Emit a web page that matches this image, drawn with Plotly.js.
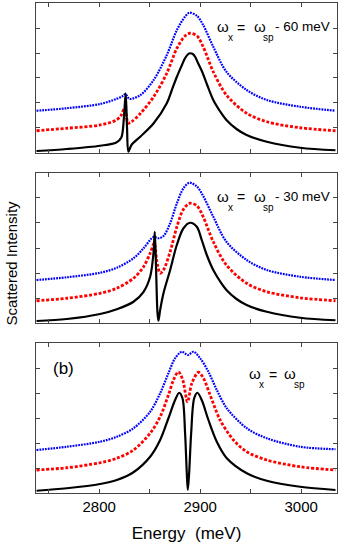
<!DOCTYPE html>
<html>
<head>
<meta charset="utf-8">
<script src="https://cdn.plot.ly/plotly-3.0.1.min.js"></script>
<style>
  html, body { margin: 0; padding: 0; background: #fff; }
  #graphDiv { width: 341px; height: 545px; }
</style>
</head>
<body>
<div id="graphDiv"></div>
<script>
// Energy (meV) and intensity, panel by panel (top = 1)
const p1BlackE = [2738, 2768, 2801, 2817, 2822, 2824.5, 2826.3, 2827.6, 2829, 2832, 2841, 2854, 2867, 2872, 2877, 2882, 2885, 2888, 2890, 2893, 2895, 2898, 2902, 2907, 2913, 2920, 2926, 2936, 2946, 2966, 2999, 3034];
const p1Black  = [0.08, 0.16, 0.29, 0.42, 0.62, 1.4, 2.39, 1.05, 0.05, 0.32, 0.66, 1.19, 1.99, 2.52, 3.05, 3.52, 3.79, 3.95, 3.99, 3.95, 3.85, 3.59, 3.25, 2.72, 2.12, 1.65, 1.32, 0.96, 0.72, 0.45, 0.21, 0.11];
const p1RedE   = [2738, 2768, 2801, 2817, 2822, 2825, 2827, 2828.4, 2832, 2841, 2854, 2867, 2877, 2885, 2890, 2897, 2903, 2913, 2926, 2946, 2966, 2999, 3034];
const p1Red    = [0.89, 0.99, 1.12, 1.32, 1.52, 1.79, 1.52, 1.19, 1.25, 1.59, 2.25, 3.19, 4.19, 4.68, 4.79, 4.68, 4.25, 3.25, 2.32, 1.59, 1.25, 1.01, 0.89];
const p1BlueE  = [2738, 2768, 2801, 2817, 2823, 2826, 2829, 2831, 2841, 2854, 2867, 2877, 2885, 2889.5, 2897, 2903, 2913, 2926, 2946, 2966, 2999, 3034];
const p1Blue   = [1.69, 1.79, 1.96, 2.16, 2.27, 2.36, 2.20, 2.16, 2.32, 2.92, 3.92, 4.92, 5.45, 5.61, 5.48, 5.12, 4.25, 3.25, 2.52, 2.12, 1.85, 1.69];

const p2BlackE = [2738, 2768, 2801, 2817.5, 2834, 2844, 2850.5, 2853.8, 2855.1, 2856.4, 2857.8, 2858.7, 2860.4, 2863.7, 2870.3, 2876.9, 2883.5, 2890, 2896.7, 2901.6, 2906.6, 2913, 2920, 2926, 2936, 2946, 2966, 2999, 3034];
const p2Black  = [0.08, 0.16, 0.36, 0.55, 0.85, 1.25, 1.85, 2.79, 3.65, 2.12, 0.39, 0.09, 0.52, 1.19, 2.12, 3.12, 3.79, 4.01, 3.85, 3.32, 2.72, 2.12, 1.65, 1.32, 0.96, 0.72, 0.45, 0.21, 0.11];
const p2RedE   = [2738, 2768, 2801, 2817.5, 2834, 2844, 2850.5, 2854.5, 2857, 2860.4, 2863.7, 2870.3, 2877, 2883.5, 2890, 2897, 2903, 2913, 2926, 2946, 2966, 2999, 3034];
const p2Red    = [0.89, 0.99, 1.19, 1.39, 1.79, 2.25, 2.79, 3.19, 2.52, 1.99, 2.12, 2.85, 3.85, 4.55, 4.79, 4.68, 4.25, 3.25, 2.32, 1.59, 1.25, 1.01, 0.89];
const p2BlueE  = [2738, 2768, 2801, 2817.5, 2834, 2844, 2852, 2854.5, 2858.7, 2863.7, 2870.3, 2877, 2883.5, 2889.4, 2897, 2903, 2913, 2926, 2946, 2966, 2999, 3034];
const p2Blue   = [1.72, 1.83, 2.01, 2.21, 2.59, 2.99, 3.39, 3.45, 3.39, 3.48, 3.99, 4.79, 5.39, 5.61, 5.45, 5.08, 4.25, 3.25, 2.52, 2.12, 1.85, 1.72];

const p3BlackE = [2738, 2768, 2801, 2817.5, 2834, 2850.5, 2860.4, 2868.6, 2875.2, 2879.2, 2882.5, 2885.1, 2886.8, 2887.8, 2889.1, 2891.1, 2894.1, 2897.3, 2901.6, 2908.2, 2916.5, 2926.4, 2946.2, 2966, 2999, 3034];
const p3Black  = [0.09, 0.19, 0.36, 0.52, 0.83, 1.45, 2.12, 2.99, 3.72, 4.01, 3.79, 2.39, 0.79, 0.12, 0.79, 2.39, 3.79, 4.01, 3.72, 2.92, 2.05, 1.39, 0.79, 0.49, 0.25, 0.12];
const p3RedE   = [2738, 2768, 2801, 2817.5, 2834, 2850.5, 2860.4, 2868.6, 2873.6, 2878.5, 2882.8, 2887.5, 2891.8, 2898.3, 2903.3, 2909.9, 2919.8, 2933, 2946.2, 2966, 2999, 3034];
const p3Red    = [0.92, 1.01, 1.21, 1.39, 1.72, 2.39, 3.05, 3.92, 4.52, 4.85, 4.52, 3.65, 4.39, 4.83, 4.59, 3.92, 2.92, 2.12, 1.65, 1.32, 1.05, 0.92];
const p3BlueE  = [2738, 2768, 2801, 2817.5, 2834, 2850.5, 2860.4, 2868.6, 2875.2, 2881.9, 2887.8, 2893.4, 2900, 2908.2, 2916.5, 2926.4, 2946.2, 2966, 2999, 3034];
const p3Blue   = [1.72, 1.85, 2.05, 2.25, 2.59, 3.25, 3.99, 4.79, 5.39, 5.65, 5.52, 5.65, 5.39, 4.85, 4.12, 3.39, 2.59, 2.19, 1.85, 1.75];

// x ticks every 50 meV, labels every 100
const xTickVals = [2750, 2800, 2850, 2900, 2950, 3000];
const xTickText = ['', '2800', '', '2900', '', '3000'];
const detuning = ['- 60 meV', '- 30 meV', ''];

const FONT = 'Liberation Sans, Arial, sans-serif';

const black = { color: '#000', width: 2.2, shape: 'spline', smoothing: 0.9 };
const red = { color: '#ff0000', width: 2.8, dash: '3px,1.8px', shape: 'spline', smoothing: 0.9 };
const blue = { color: '#0000ff', width: 2.2, dash: '1.8px,1px', shape: 'spline', smoothing: 0.9 };

function tr(x, y, line, n) {
  return { x: x, y: y, mode: 'lines', line: line, xaxis: 'x' + n, yaxis: 'y' + n, hoverinfo: 'skip' };
}

const data = [
  tr(p1BlueE, p1Blue, blue, ''), tr(p1RedE, p1Red, red, ''), tr(p1BlackE, p1Black, black, ''),
  tr(p2BlueE, p2Blue, blue, '2'), tr(p2RedE, p2Red, red, '2'), tr(p2BlackE, p2Black, black, '2'),
  tr(p3BlueE, p3Blue, blue, '3'), tr(p3RedE, p3Red, red, '3'), tr(p3BlackE, p3Black, black, '3')
];

function xax(anchor, labels) {
  return {
    range: [2737.5, 3035.5], anchor: anchor,
    tickvals: xTickVals, ticktext: labels ? xTickText : xTickVals.map(() => ''),
    ticks: 'inside', ticklen: 4, tickcolor: '#444', tickwidth: 1,
    showline: true, linecolor: '#444', linewidth: 1, mirror: 'ticks',
    showgrid: false, zeroline: false,
    tickfont: { family: FONT, size: 15, color: '#000' }
  };
}
function yax(anchor, domain) {
  return {
    range: [0, 6], domain: domain, anchor: anchor,
    tickvals: [1, 2, 3, 4, 5], showticklabels: false,
    ticks: 'inside', ticklen: 4, tickcolor: '#444', tickwidth: 1,
    showline: true, linecolor: '#444', linewidth: 1, mirror: 'ticks',
    showgrid: false, zeroline: false
  };
}

// label pieces: omega, subscript, "=", omega, subscript, detuning
const annotations = [];
function txt(n, x, y, text, size) {
  annotations.push({ xref: 'x' + n, yref: 'y' + n, x: x, y: y, text: text, showarrow: false,
    xanchor: 'left', yanchor: 'middle', font: { family: FONT, size: size, color: '#000' } });
}
['', '2'].forEach((n, i) => {
  txt(n, 2914.5, 5.06, 'ω', 15);
  txt(n, 2925.2, 4.62, 'x', 10);
  txt(n, 2934.2, 5.02, '=', 14);
  txt(n, 2951.2, 5.06, 'ω', 15);
  txt(n, 2960, 4.62, 'sp', 10);
  txt(n, 2972, 5.06, detuning[i], 13.5);
});
txt('3', 2946, 4.78, 'ω', 15);
txt('3', 2956, 4.36, 'x', 10);
txt('3', 2966, 4.74, '=', 14);
txt('3', 2981, 4.78, 'ω', 15);
txt('3', 2990.8, 4.36, 'sp', 10);
txt('3', 2752, 4.98, '(b)', 17);

annotations.push({ xref: 'paper', yref: 'paper', x: -0.08, y: 0.47, xanchor: 'center', yanchor: 'middle',
  text: 'Scattered Intensity', textangle: -90, showarrow: false,
  font: { family: FONT, size: 15, color: '#000' } });

const layout = {
  width: 341, height: 545,
  margin: { l: 36, r: 4, t: 3, b: 52 },
  paper_bgcolor: '#fff', plot_bgcolor: '#fff',
  showlegend: false,
  xaxis: xax('y', false),
  yaxis: yax('x', [0.6939, 1]),
  xaxis2: xax('y2', false),
  yaxis2: yax('x2', [0.3469, 0.6531]),
  xaxis3: Object.assign(xax('y3', true), {
    title: { text: 'Energy  (meV)', font: { family: FONT, size: 17, color: '#000' }, standoff: 13 }
  }),
  yaxis3: yax('x3', [0, 0.3061]),
  annotations: annotations
};

Plotly.newPlot('graphDiv', data, layout, { staticPlot: true });
</script>
</body>
</html>
